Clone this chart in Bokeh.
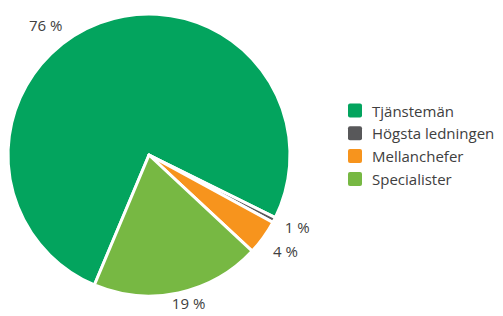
import numpy as np
from bokeh.plotting import figure
from bokeh.models import Range1d, ColumnDataSource
from bokeh.core.properties import value
from bokeh.embed import file_html
from bokeh.resources import INLINE

# ---- data ----
categories = ["Tjänstemän", "Högsta ledningen", "Mellanchefer", "Specialister"]
percent = [76, 0.6, 4, 19.4]
labels = ["76 %", "1 %", "4 %", "19 %"]
colors = ["#03A45E", "#58585A", "#F7941D", "#77B843"]

# ---- layout (page pixels -> figure data units) ----
W, H = 503, 316
def fx(px):
    return px
def fy(py):
    return H - py

cx, cy, R = fx(148.5), fy(154.5), 141
start_deg = 247.2
label_angle = [128.5, 334.0, 324.8, 285.0]
label_r = [166, 165, 167, 153]

vals = np.array(percent, dtype=float)
cum = np.concatenate([[0], np.cumsum(vals)[:-1]])
starts = np.deg2rad(start_deg - cum * 3.6)
ends = np.deg2rad(start_deg - (cum + vals) * 3.6)

src = ColumnDataSource(dict(start=starts, end=ends, color=colors, cat=categories))

p = figure(width=W, height=H, x_range=Range1d(0, W), y_range=Range1d(0, H),
           output_backend="svg", toolbar_location=None, min_border=0,
           x_axis_type=None, y_axis_type=None)
p.grid.visible = False
p.outline_line_color = None

p.wedge(x=cx, y=cy, radius=R, radius_units="screen", start_angle="start", end_angle="end",
        direction="clock", fill_color="color", line_color="white", line_width=3,
        line_join="round", source=src)

la = np.deg2rad(label_angle)
lx = cx + np.array(label_r) * np.cos(la)
ly = cy + np.array(label_r) * np.sin(la)
p.text(x=lx, y=ly, text=labels, text_font=value("Open Sans"), text_font_size="15px",
       text_color="#404040", text_align="center", text_baseline="middle")

# legend
n = len(categories)
leg_y = fy(110) - np.arange(n) * 22.8
leg_x = np.full(n, fx(354.5))
p.rect(x=leg_x, y=leg_y, width=14, height=14, width_units="screen", height_units="screen",
       fill_color=colors, line_color=None, border_radius=2)
p.text(x=np.full(n, fx(371.5)), y=leg_y, text=categories, text_font=value("Open Sans"),
       text_font_size="15px", text_color="#404040", text_align="left", text_baseline="middle")

open("out.html", "w").write(file_html(p, INLINE))
